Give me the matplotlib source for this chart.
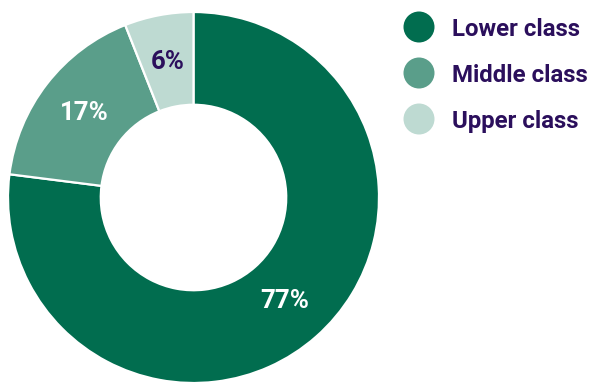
import matplotlib
matplotlib.use("Agg")
import matplotlib.pyplot as plt

# Share of respondents by self-identified class
categories = ["Lower class", "Middle class", "Upper class"]
shares = [77, 17, 6]

colors = ["#016d4f", "#5a9e8a", "#bedad2"]
label_colors = ["white", "white", "#2b0f5c"]
text_color = "#2b0f5c"

W, H = 593, 382
fig = plt.figure(figsize=(W / 100, H / 100), dpi=100)

# Donut axes, positioned in pixel units
cx, cy, r = 193.5, 197.5, 185.5
ax = fig.add_axes([(cx - r) / W, (H - cy - r) / H, 2 * r / W, 2 * r / H])
wedges, _, autotexts = ax.pie(
    shares,
    colors=colors,
    startangle=90,
    counterclock=False,
    radius=1.0,
    autopct=lambda p: f"{p:.0f}%",
    pctdistance=0.745,
    wedgeprops=dict(width=0.5, edgecolor="white", linewidth=1.6),
    textprops=dict(family="Roboto", fontweight="bold", fontsize=18.5),
)
for t, c in zip(autotexts, label_colors):
    t.set_color(c)
ax.set_xlim(-1, 1)
ax.set_ylim(-1, 1)
ax.set_aspect("equal")
ax.axis("off")

# Legend drawn as circles and labels in pixel coordinates
lax = fig.add_axes([0, 0, 1, 1])
lax.set_xlim(0, W)
lax.set_ylim(H, 0)
lax.axis("off")
y0, step = 27, 46
for i, (name, col) in enumerate(zip(categories, colors)):
    y = y0 + i * step
    lax.scatter([419], [y], s=(31 * 0.72) ** 2, color=col, edgecolors="none")
    lax.text(452, y, name, va="center_baseline", ha="left", family="Roboto",
             fontweight="bold", fontsize=17.3, color=text_color)

fig.savefig("out.png", dpi=100)
